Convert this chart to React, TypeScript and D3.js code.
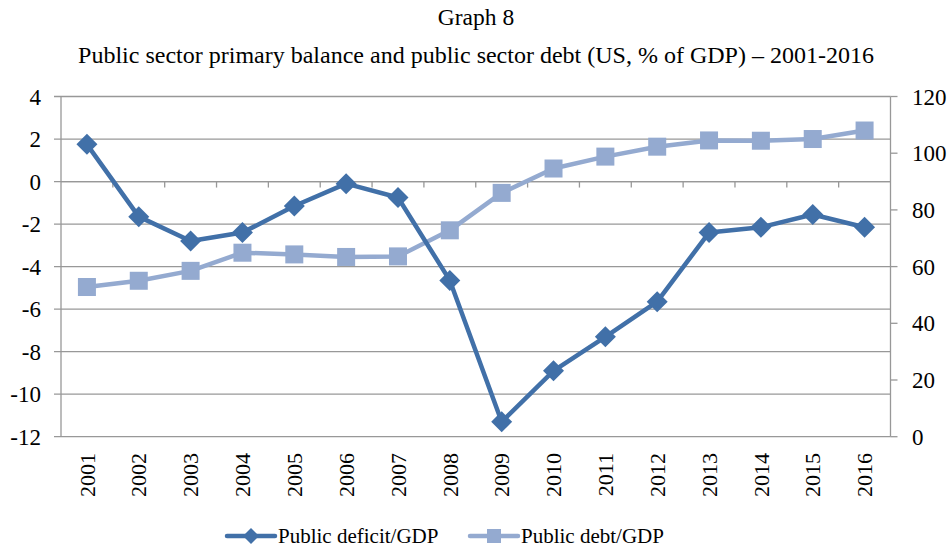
import { scaleBand, scaleLinear, line } from "d3";

const years = [
  "2001", "2002", "2003", "2004", "2005", "2006", "2007", "2008",
  "2009", "2010", "2011", "2012", "2013", "2014", "2015", "2016",
];
const deficitGdp = [1.75, -1.65, -2.8, -2.4, -1.15, -0.1, -0.75, -4.65, -11.3, -8.9, -7.3, -5.65, -2.4, -2.15, -1.55, -2.15];
const debtGdp = [52.8, 55.0, 58.5, 64.9, 64.3, 63.4, 63.6, 72.8, 86.0, 94.6, 98.8, 102.3, 104.5, 104.4, 105.0, 108.0];
const leftTicks = [4, 2, 0, -2, -4, -6, -8, -10, -12];
const rightTicks = [120, 100, 80, 60, 40, 20, 0];

const WIDTH = 948;
const HEIGHT = 548;
const PLOT = { left: 61, right: 890.5, top: 96.5, bottom: 436.7 };
const FONT = "Liberation Serif";
const DEFICIT_COLOR = "#4170A8";
const DEBT_COLOR = "#94AAD0";
const GRID = "#989898";

export default function App() {
  const x = scaleBand<string>().domain(years).range([PLOT.left, PLOT.right]);
  const yLeft = scaleLinear().domain([-12, 4]).range([PLOT.bottom, PLOT.top]);
  const yRight = scaleLinear().domain([0, 120]).range([PLOT.bottom, PLOT.top]);
  const cx = (i: number) => (x(years[i]) ?? 0) + x.bandwidth() / 2;

  const deficitPath = line<number>()
    .x((_, i) => cx(i))
    .y((d) => yLeft(d))(deficitGdp) ?? "";
  const debtPath = line<number>()
    .x((_, i) => cx(i))
    .y((d) => yRight(d))(debtGdp) ?? "";

  const zeroY = yLeft(0);
  const diamond = (px: number, py: number, r: number) =>
    `M${px},${py - r}L${px + r},${py}L${px},${py + r}L${px - r},${py}Z`;
  const txt = { fontFamily: FONT, fill: "#000" };

  return (
    <svg
      width={WIDTH}
      height={HEIGHT}
      style={{ position: "absolute", left: 0, top: 0, background: "#fff" }}
    >
      <text {...txt} x={476} y={25} textAnchor="middle" fontSize={23.5}>
        Graph 8
      </text>
      <text {...txt} x={476} y={63} textAnchor="middle" fontSize={24}>
        Public sector primary balance and public sector debt (US, % of GDP) – 2001-2016
      </text>

      {/* gridlines + left axis */}
      {leftTicks.map((t) => (
        <g key={t}>
          <line x1={54} x2={PLOT.right} y1={yLeft(t)} y2={yLeft(t)} stroke={GRID} strokeWidth={1.3} />
          <text {...txt} x={41} y={yLeft(t)} dy="0.35em" textAnchor="end" fontSize={23}>
            {t}
          </text>
        </g>
      ))}
      <line x1={PLOT.left} x2={PLOT.left} y1={PLOT.top} y2={PLOT.bottom} stroke={GRID} strokeWidth={1.3} />

      {/* right axis */}
      <line x1={PLOT.right} x2={PLOT.right} y1={PLOT.top} y2={PLOT.bottom} stroke={GRID} strokeWidth={1.3} />
      {rightTicks.map((t) => (
        <g key={t}>
          <line x1={PLOT.right} x2={PLOT.right + 7} y1={yRight(t)} y2={yRight(t)} stroke={GRID} strokeWidth={1.3} />
          <text {...txt} x={912} y={yRight(t)} dy="0.35em" textAnchor="start" fontSize={23}>
            {t}
          </text>
        </g>
      ))}

      {/* category axis at 0 */}
      <line x1={PLOT.left} x2={PLOT.right} y1={zeroY} y2={zeroY} stroke={GRID} strokeWidth={1.3} />
      {years.slice(1).map((yr) => (
        <line key={yr} x1={x(yr)} x2={x(yr)} y1={zeroY} y2={zeroY + 6} stroke={GRID} strokeWidth={1.3} />
      ))}
      {years.map((yr, i) => (
        <text
          {...txt}
          key={yr}
          transform={`translate(${cx(i)},453) rotate(-90)`}
          dy="0.35em"
          textAnchor="end"
          fontSize={22}
        >
          {yr}
        </text>
      ))}

      {/* series */}
      <path d={debtPath} fill="none" stroke={DEBT_COLOR} strokeWidth={4.5} strokeLinejoin="round" />
      {debtGdp.map((d, i) => (
        <rect key={i} x={cx(i) - 9} y={yRight(d) - 9} width={18} height={18} fill={DEBT_COLOR} />
      ))}
      <path d={deficitPath} fill="none" stroke={DEFICIT_COLOR} strokeWidth={4.5} strokeLinejoin="round" />
      {deficitGdp.map((d, i) => (
        <path key={i} d={diamond(cx(i), yLeft(d), 10.5)} fill={DEFICIT_COLOR} />
      ))}

      {/* legend */}
      <line x1={227} x2={275} y1={536} y2={536} stroke={DEFICIT_COLOR} strokeWidth={4.5} strokeLinecap="round" />
      <path d={diamond(251, 536, 8)} fill={DEFICIT_COLOR} />
      <text {...txt} x={278} y={536} dy="0.35em" fontSize={21}>
        Public deficit/GDP
      </text>
      <line x1={470} x2={518} y1={536} y2={536} stroke={DEBT_COLOR} strokeWidth={4.5} strokeLinecap="round" />
      <rect x={487} y={529} width={14} height={14} fill={DEBT_COLOR} />
      <text {...txt} x={521} y={536} dy="0.35em" fontSize={21}>
        Public debt/GDP
      </text>
    </svg>
  );
}
